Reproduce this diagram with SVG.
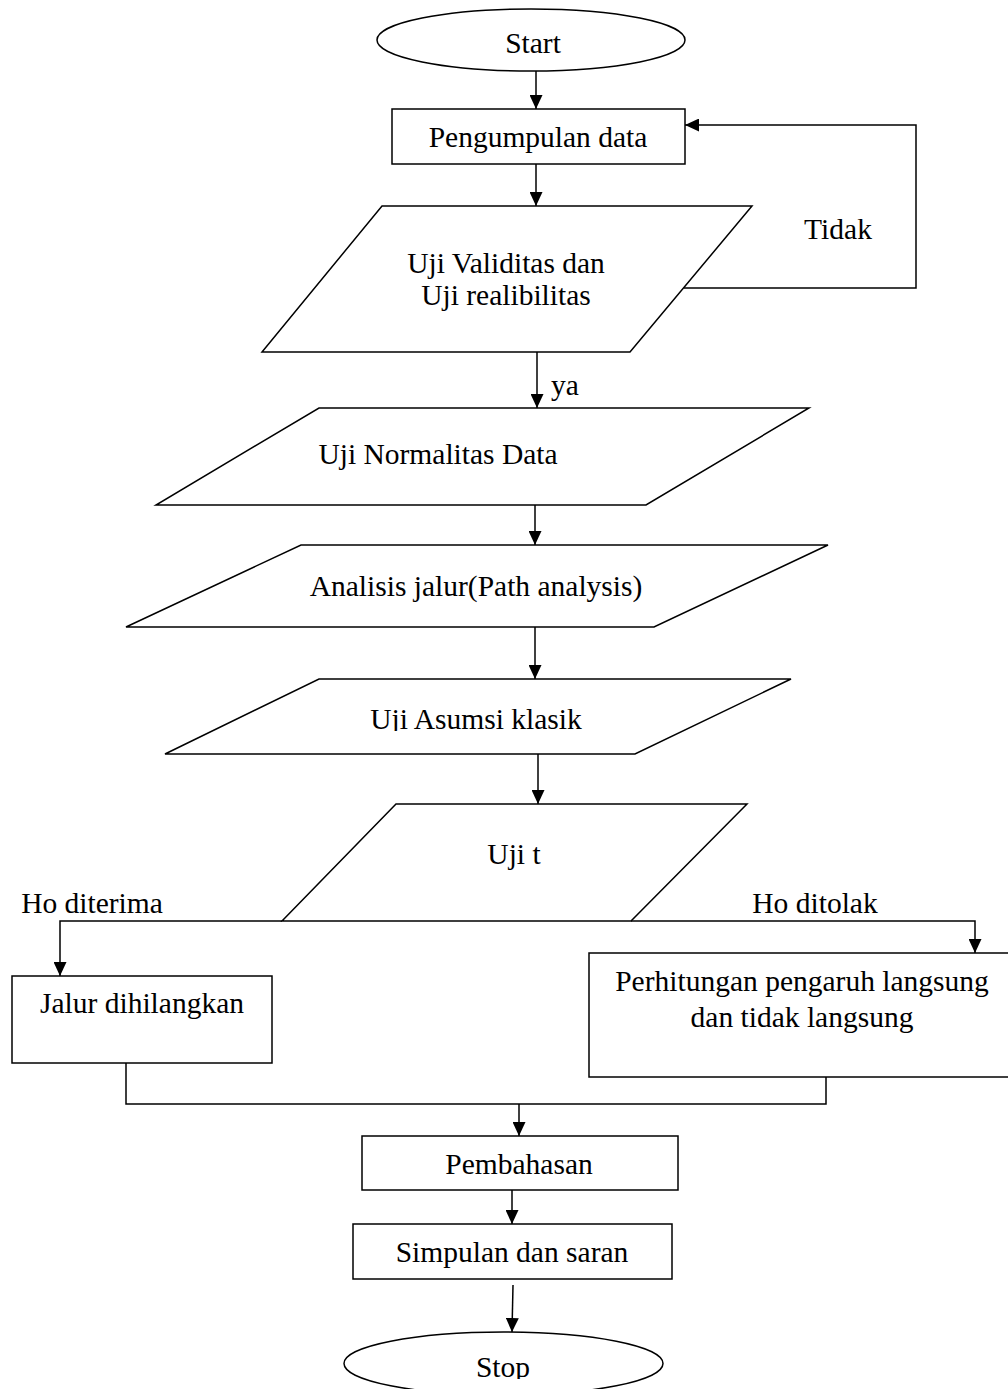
<svg xmlns="http://www.w3.org/2000/svg" width="1008" height="1389" viewBox="0 0 1008 1389">
<style>
  .shape { fill: #ffffff; stroke: #000000; stroke-width: 1.5; }
  .conn { fill: none; stroke: #000000; stroke-width: 1.5; }
  .arrow { marker-end: url(#ah); }
  text { font-family: "Liberation Serif", "Times New Roman", serif; font-size: 29.5px; fill: #000000; }
  .c { text-anchor: middle; }
</style>
<defs>
  <marker id="ah" markerUnits="userSpaceOnUse" markerWidth="14" markerHeight="13" refX="14" refY="6.5" orient="auto">
    <path d="M0,0 L14,6.5 L0,13 z" fill="#000000"/>
  </marker>
  <clipPath id="clipAsumsi"><rect x="0" y="690" width="1008" height="41"/></clipPath>
  <clipPath id="clipStop"><rect x="0" y="1340" width="1008" height="39"/></clipPath>
</defs>
<rect x="0" y="0" width="1008" height="1389" fill="#ffffff"/>

<g id="connectors">
  <line class="conn arrow" x1="536" y1="71" x2="536" y2="109"/>
  <line class="conn arrow" x1="536" y1="164" x2="536" y2="206"/>
  <polyline class="conn arrow" points="684,288 916,288 916,125 685,125"/>
  <line class="conn arrow" x1="537" y1="352" x2="537" y2="408"/>
  <line class="conn arrow" x1="535" y1="505" x2="535" y2="545"/>
  <line class="conn arrow" x1="535" y1="627" x2="535" y2="679"/>
  <line class="conn arrow" x1="538" y1="754" x2="538" y2="804"/>
  <polyline class="conn arrow" points="282,921 60,921 60,976"/>
  <polyline class="conn arrow" points="631,921 975,921 975,953"/>
  <polyline class="conn" points="126,1063 126,1104 826,1104 826,1077"/>
  <line class="conn arrow" x1="519" y1="1104" x2="519" y2="1136"/>
  <line class="conn arrow" x1="512" y1="1190" x2="512" y2="1224"/>
  <line class="conn arrow" x1="513" y1="1285" x2="512" y2="1332"/>
  <text x="551" y="395">ya</text>
  <text x="838" y="239" class="c">Tidak</text>
  <text x="92" y="913" class="c">Ho diterima</text>
  <text x="815" y="913" class="c">Ho ditolak</text>
</g>

<g id="start">
  <ellipse class="shape" cx="531" cy="40" rx="154" ry="31"/>
  <text x="533" y="53" class="c">Start</text>
</g>

<g id="pengumpulan">
  <rect class="shape" x="392" y="109" width="293" height="55"/>
  <text x="538" y="147" class="c">Pengumpulan data</text>
</g>

<g id="validitas">
  <polygon class="shape" points="382,206 752,206 630,352 262,352"/>
  <text x="506" y="273" class="c">Uji Validitas dan</text>
  <text x="506" y="305" class="c">Uji realibilitas</text>
</g>

<g id="normalitas">
  <polygon class="shape" points="319,408 809,408 646,505 156,505"/>
  <text x="438" y="464" class="c">Uji Normalitas Data</text>
</g>

<g id="analisis">
  <polygon class="shape" points="301,545 828,545 654,627 126,627"/>
  <text x="476" y="596" class="c">Analisis jalur(Path analysis)</text>
</g>

<g id="asumsi">
  <polygon class="shape" points="319,679 791,679 635,754 165,754"/>
  <text x="476" y="729" class="c" clip-path="url(#clipAsumsi)">Uji Asumsi klasik</text>
</g>

<g id="ujit">
  <polygon class="shape" points="396,804 747,804 631,921 282,921"/>
  <text x="514" y="864" class="c">Uji t</text>
</g>

<g id="jalur">
  <rect class="shape" x="12" y="976" width="260" height="87"/>
  <text x="142" y="1013" class="c">Jalur dihilangkan</text>
</g>

<g id="perhitungan">
  <rect class="shape" x="589" y="953" width="425" height="124"/>
  <text x="802" y="991" class="c">Perhitungan pengaruh langsung</text>
  <text x="802" y="1027" class="c">dan tidak langsung</text>
</g>

<g id="pembahasan">
  <rect class="shape" x="362" y="1136" width="316" height="54"/>
  <text x="519" y="1174" class="c">Pembahasan</text>
</g>

<g id="simpulan">
  <rect class="shape" x="353" y="1224" width="319" height="55"/>
  <text x="512" y="1262" class="c">Simpulan dan saran</text>
</g>

<g id="stop">
  <ellipse class="shape" cx="503.5" cy="1363.5" rx="159.5" ry="31.5"/>
  <text x="503" y="1377" class="c" clip-path="url(#clipStop)">Stop</text>
</g>
</svg>
